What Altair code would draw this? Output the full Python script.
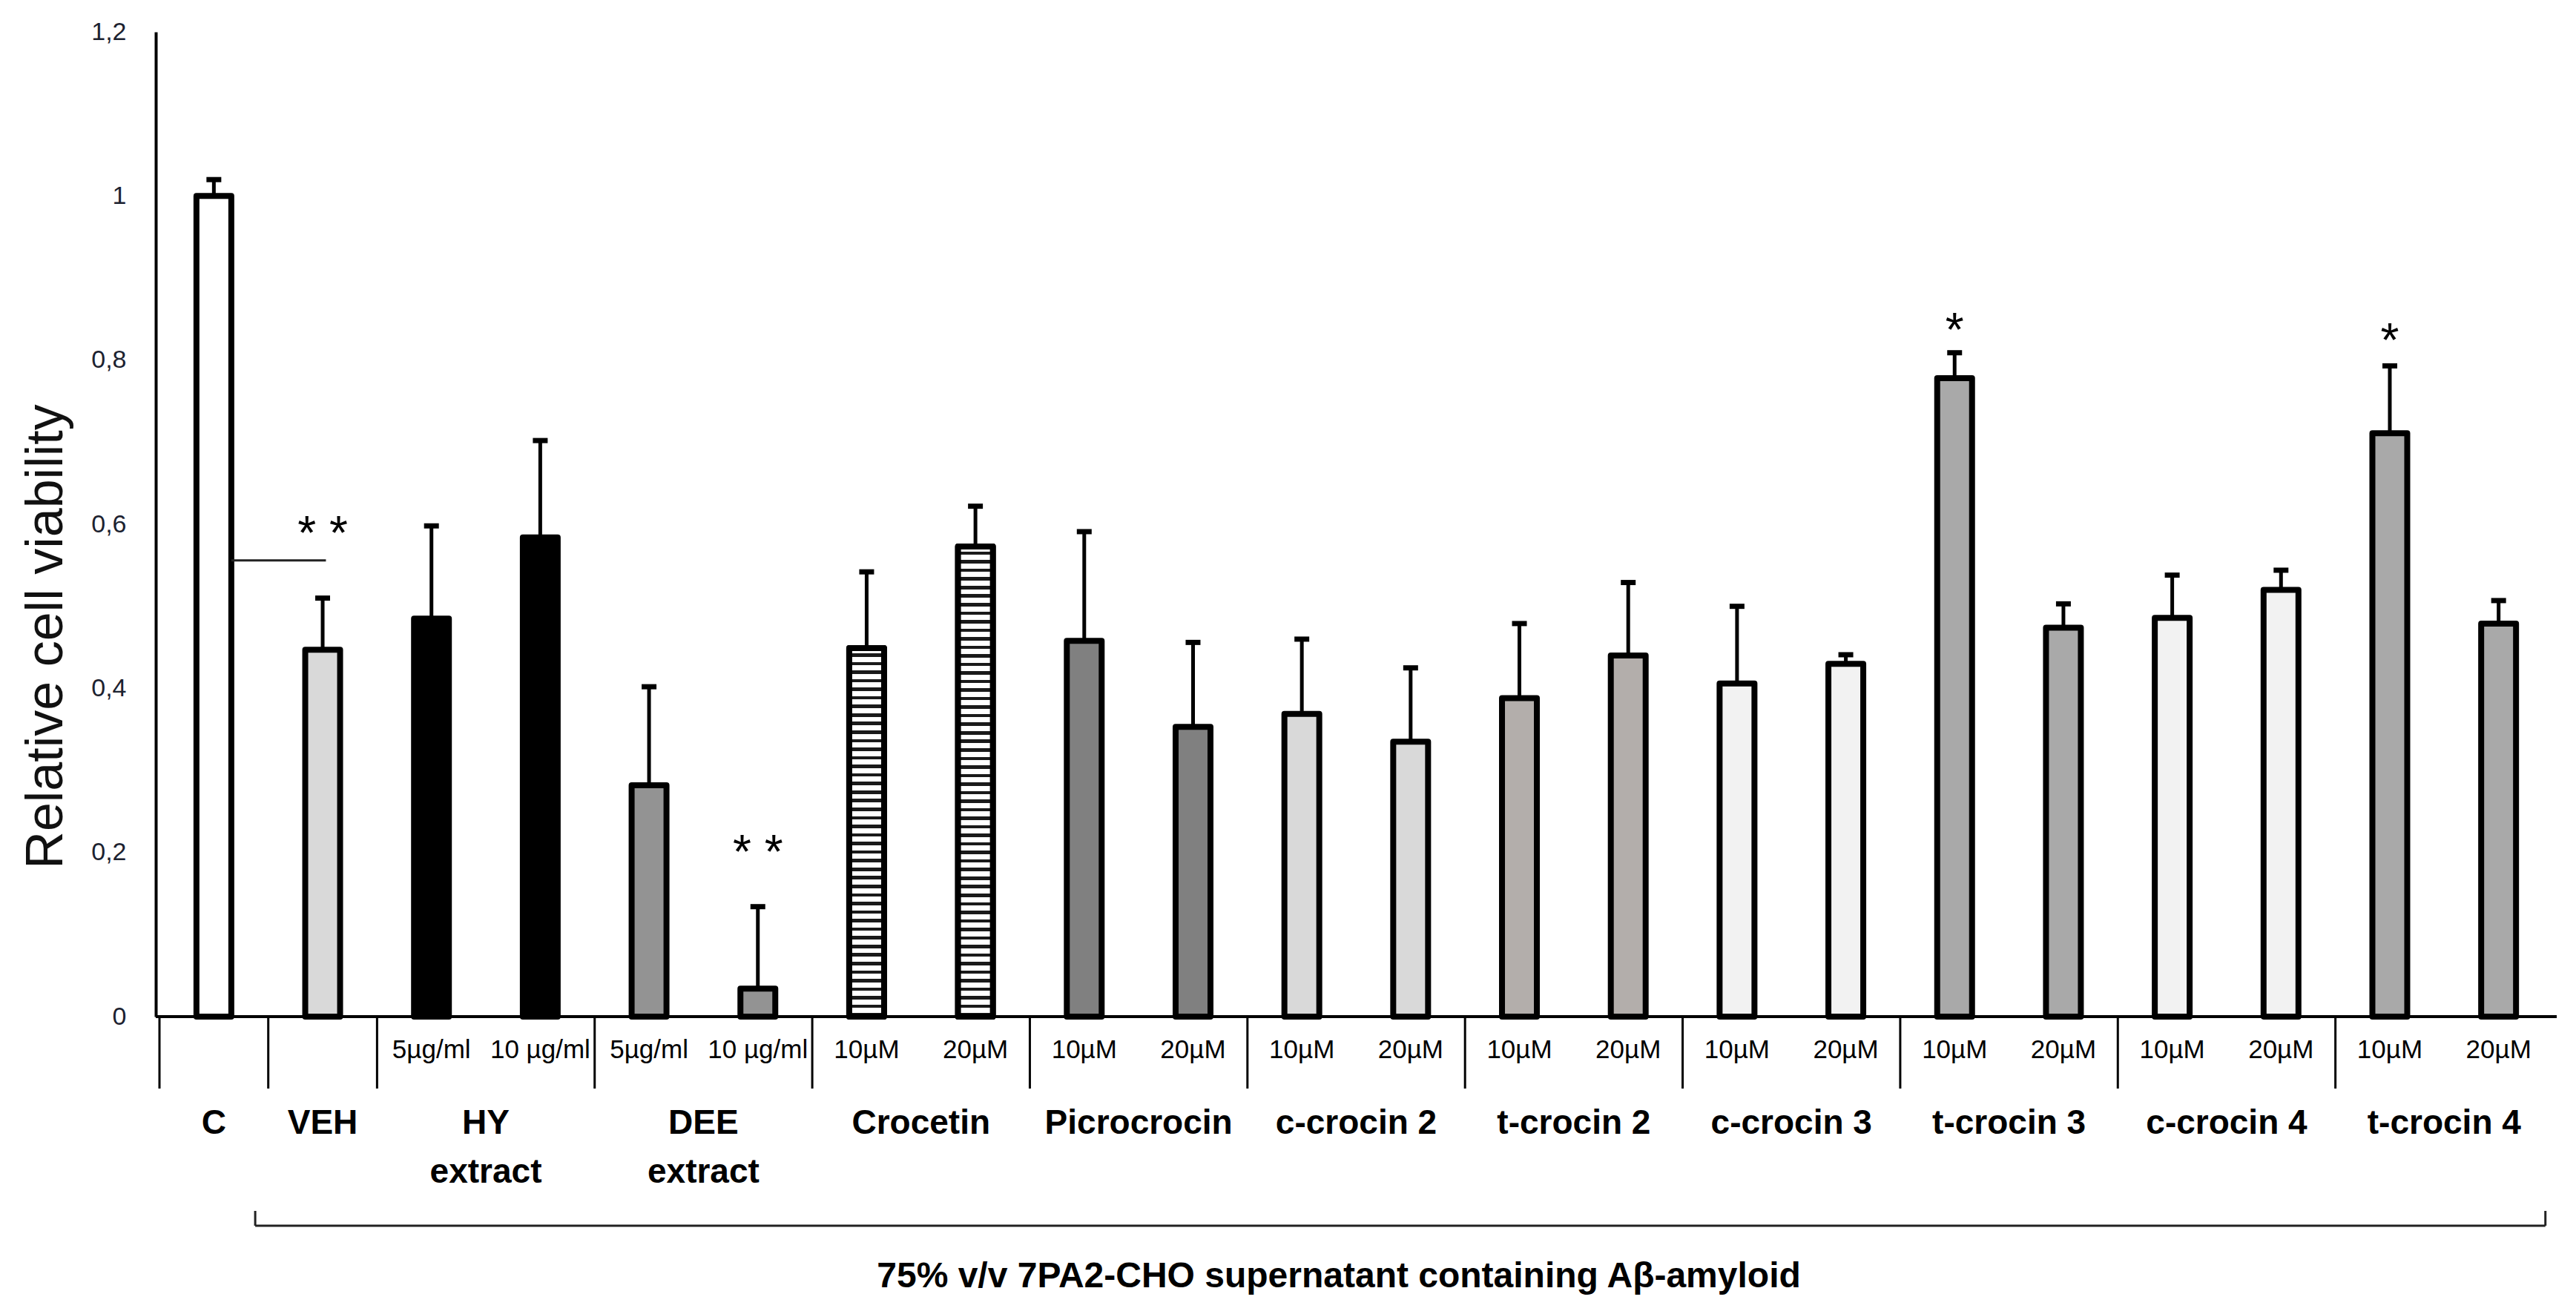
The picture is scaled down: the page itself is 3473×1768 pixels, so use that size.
import altair as alt
import pandas as pd

# ---------------- data ----------------
groups = ["C", "VEH", "HY", "DEE", "Crocetin", "Picrocrocin", "c-crocin 2",
          "t-crocin 2", "c-crocin 3", "t-crocin 3", "c-crocin 4", "t-crocin 4"]
group_line2 = ["", "", "extract", "extract", "", "", "", "", "", "", "", ""]

bar_group = ["C", "VEH", "HY", "HY", "DEE", "DEE", "Crocetin", "Crocetin",
             "Picrocrocin", "Picrocrocin", "c-crocin 2", "c-crocin 2",
             "t-crocin 2", "t-crocin 2", "c-crocin 3", "c-crocin 3",
             "t-crocin 3", "t-crocin 3", "c-crocin 4", "c-crocin 4",
             "t-crocin 4", "t-crocin 4"]
bar_sub = ["", "", "5µg/ml", "10 µg/ml", "5µg/ml", "10 µg/ml",
           "10µM", "20µM", "10µM", "20µM", "10µM", "20µM", "10µM", "20µM",
           "10µM", "20µM", "10µM", "20µM", "10µM", "20µM", "10µM", "20µM"]
means = [1.000, 0.447, 0.485, 0.584, 0.282, 0.034, 0.449, 0.573,
         0.458, 0.353, 0.369, 0.335, 0.388, 0.440, 0.406, 0.430,
         0.778, 0.474, 0.486, 0.520, 0.711, 0.479]
errors = [0.020, 0.063, 0.113, 0.118, 0.120, 0.100, 0.093, 0.049,
          0.133, 0.103, 0.091, 0.090, 0.091, 0.089, 0.094, 0.011,
          0.031, 0.029, 0.052, 0.024, 0.082, 0.028]

sig_bar = [1, 5, 16, 20]
sig_text = ["* *", "* *", "*", "*"]
sig_y = [0.586, 0.198, 0.834, 0.821]

sig_line_x = [0.66, 1.53]
sig_line_y = 0.556
bracket_x = [0.88, 21.93]
bottom_label = "75% v/v 7PA2-CHO supernatant containing Aβ-amyloid"
bottom_label_x = 10.84
y_title = "Relative cell viability"

# ---------------- styles ----------------
group_colors = ["#ffffff", "#d9d9d9", "#000000", "#939393", "#ffffff", "#808080",
                "#d9d9d9", "#b3aeab", "#f2f2f2", "#a9a9a9", "#f2f2f2", "#a9a9a9"]

W, H = 3237, 1328
YMAX = 1.2
px_per_unit = H / YMAX
FONT = "Liberation Sans"

# ---------------- tables ----------------
df = pd.DataFrame({
    "idx": list(range(len(means))),
    "pos": [i + 0.5 for i in range(len(means))],
    "group": bar_group,
    "sub": bar_sub,
    "mean": means,
    "upper": [m + e for m, e in zip(means, errors)],
})

starts, ends = [], []
for g in groups:
    ids = [i for i, b in enumerate(bar_group) if b == g]
    starts.append(ids[0])
    ends.append(ids[-1] + 1)
gdf = pd.DataFrame({"group": groups, "center": [(s + e) / 2 for s, e in zip(starts, ends)],
                    "line2": group_line2})
sep_df = pd.DataFrame({"b": [0] + ends[:-1]})
sig_df = pd.DataFrame({"pos": [i + 0.5 for i in sig_bar], "y": sig_y, "t": sig_text})
sigline_df = pd.DataFrame({"x1": [sig_line_x[0]], "x2": [sig_line_x[1]], "y": [sig_line_y]})
bracket_df = pd.DataFrame({"x1": [bracket_x[0]], "x2": [bracket_x[1]]})
bracket_ends_df = pd.DataFrame({"x": bracket_x})
bottom_df = pd.DataFrame({"x": [bottom_label_x], "t": [bottom_label]})
zero_df = pd.DataFrame({"z": [0.0]})

xscale = alt.Scale(domain=[0, len(means)], nice=False, zero=False)
yscale = alt.Scale(domain=[0, YMAX], nice=False, zero=True)
yaxis = alt.Axis(
    values=[0, 0.2, 0.4, 0.6, 0.8, 1, 1.2],
    labelExpr="replace(format(datum.value, '~g'), '.', ',')",
    ticks=False, grid=False, domain=True, domainColor="black", domainWidth=4,
    labelFont=FONT, labelFontSize=34, labelColor="#1c2230", labelPadding=40,
    title=y_title, titleFont=FONT, titleFontSize=70, titleFontWeight="normal",
    titleColor="#111111", titleAngle=270, titleAlign="center", titleBaseline="middle",
    titleX=-148, titleY=815,
)


def X(field):
    return alt.X(field, type="quantitative", scale=xscale, axis=None)


def Y(field):
    return alt.Y(field, type="quantitative", scale=yscale, axis=yaxis, title=y_title)


def stripes(v):
    h = v * px_per_unit
    n = max(1, round(h / 11.6))
    stops = []
    for k in range(n):
        a, b, c = k / n, (k + 0.6) / n, (k + 1) / n
        stops += [{"offset": a, "color": "#ffffff"}, {"offset": b, "color": "#ffffff"},
                  {"offset": b, "color": "#1a1a1a"}, {"offset": c, "color": "#1a1a1a"}]
    return alt.LinearGradient(gradient="linear", x1=0, y1=0, x2=0, y2=1, stops=stops)


base = alt.Chart(df)

zero_rule = alt.Chart(zero_df).mark_rule(color="black", strokeWidth=4).encode(y=Y("z"))

bars = base.mark_bar(orient="vertical", size=47, stroke="black", strokeWidth=8,
                     strokeJoin="round").encode(
    x=X("pos"), y=Y("mean"),
    fill=alt.Fill("group:N", scale=alt.Scale(domain=groups, range=group_colors), legend=None),
)

croc_layers = []
for i, g in enumerate(bar_group):
    if g == "Crocetin":
        croc_layers.append(
            base.transform_filter(alt.datum.idx == i).mark_bar(
                orient="vertical", size=47, stroke="black", strokeWidth=8,
                strokeJoin="round", fill=stripes(means[i])
            ).encode(x=X("pos"), y=Y("mean"))
        )

stems = base.mark_rule(color="black", strokeWidth=5).encode(
    x=X("pos"), y=Y("mean"), y2=alt.Y2("upper"))
caps = base.mark_tick(orient="horizontal", color="black", size=20, thickness=7,
                      opacity=1).encode(x=X("pos"), y=Y("upper"))

sub_text = base.mark_text(font=FONT, fontSize=35, color="black", baseline="middle").encode(
    x=X("pos"), y=alt.value(1373), text="sub:N")

g1 = alt.Chart(gdf).mark_text(font=FONT, fontSize=46, fontWeight="bold", color="black",
                              baseline="middle").encode(
    x=X("center"), y=alt.value(1472), text="group:N")
g2 = alt.Chart(gdf).mark_text(font=FONT, fontSize=46, fontWeight="bold", color="black",
                              baseline="middle").encode(
    x=X("center"), y=alt.value(1538), text="line2:N")

seps = alt.Chart(sep_df).mark_rule(color="black", strokeWidth=3).encode(
    x=X("b"), y=alt.value(H), y2=alt.value(H + 97))

sig_line = alt.Chart(sigline_df).mark_rule(color="#222222", strokeWidth=3).encode(
    x=X("x1"), x2=alt.X2("x2"), y=Y("y"))
sig_marks = alt.Chart(sig_df).mark_text(font=FONT, fontSize=64, color="black",
                                        baseline="middle").encode(
    x=X("pos"), y=Y("y"), text="t:N")

bracket_h = alt.Chart(bracket_df).mark_rule(color="#222222", strokeWidth=3).encode(
    x=X("x1"), x2=alt.X2("x2"), y=alt.value(1610))
bracket_v = alt.Chart(bracket_ends_df).mark_rule(color="#222222", strokeWidth=3).encode(
    x=X("x"), y=alt.value(1590), y2=alt.value(1610))

bottom = alt.Chart(bottom_df).mark_text(font=FONT, fontSize=48, fontWeight="bold",
                                        color="black", baseline="middle").encode(
    x=X("x"), y=alt.value(1679), text="t:N")

chart = alt.layer(
    bars, *croc_layers, stems, caps, zero_rule, seps, sub_text, g1, g2,
    sig_line, sig_marks, bracket_h, bracket_v, bottom,
).properties(
    width=W, height=H,
    padding={"left": 202, "top": 35, "right": 18, "bottom": 389},
    autosize=alt.AutoSizeParams(type="none"),
    background="white",
).configure_view(stroke=None)

chart.save("out.html", embed_options={"renderer": "svg", "actions": False})
